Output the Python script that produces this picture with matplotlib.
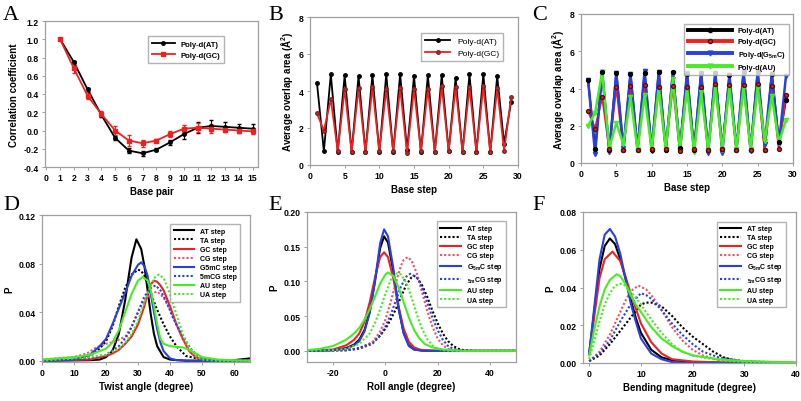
import numpy as np
import matplotlib
matplotlib.use('Agg')
import matplotlib.pyplot as plt
from matplotlib.lines import Line2D

plt.rcParams['font.family'] = ['Liberation Sans', 'DejaVu Sans']
plt.rcParams['axes.unicode_minus'] = False
plt.rcParams['mathtext.default'] = 'regular'

# ---- A: correlation coefficient ----
bp = np.arange(1, 16)
corr_at = [1.0, 0.75, 0.45, 0.17, -0.08, -0.22, -0.25, -0.21, -0.13, -0.04, 0.03, 0.05, 0.04, 0.03, 0.02]
corr_at_err = [0, 0.01, 0.02, 0.02, 0.02, 0.03, 0.03, 0.02, 0.03, 0.05, 0.06, 0.06, 0.05, 0.04, 0.05]
corr_gc = [1.0, 0.68, 0.38, 0.18, 0.0, -0.11, -0.14, -0.11, -0.04, 0.02, 0.03, 0.02, 0.01, 0.0, -0.01]
corr_gc_err = [0, 0.05, 0.04, 0.03, 0.05, 0.06, 0.04, 0.02, 0.03, 0.04, 0.05, 0.05, 0.03, 0.03, 0.03]

# ---- B / C: overlap area ----
steps = np.arange(1, 30)
ov_at = [4.45, 0.75, 4.9, 0.7, 4.85, 0.7, 4.8, 0.7, 4.85, 0.7, 4.9, 0.7, 4.9, 0.8, 4.8,
         0.7, 4.85, 0.7, 4.85, 0.75, 4.7, 0.7, 4.9, 0.7, 4.9, 0.7, 4.8, 1.15, 3.4]
ov_gc = [2.8, 1.85, 3.55, 0.75, 4.1, 0.7, 4.15, 0.7, 4.2, 0.75, 4.1, 0.75, 4.15, 0.65, 4.1,
         0.75, 4.1, 0.7, 4.25, 0.75, 4.2, 0.7, 4.2, 0.7, 4.25, 0.7, 4.15, 0.75, 3.65]
ov_g5mc = [4.45, 0.5, 4.9, 0.6, 4.85, 0.8, 4.8, 0.7, 4.95, 0.65, 4.9, 0.7, 4.85, 0.65, 4.85,
           0.65, 4.85, 0.55, 4.85, 0.55, 4.75, 0.7, 4.9, 0.65, 4.9, 1.0, 4.8, 1.0, 4.65]
ov_au = [2.0, 2.7, 4.9, 0.8, 2.15, 1.0, 3.55, 0.7, 3.65, 0.7, 4.05, 0.75, 4.5, 0.7, 4.05,
         0.6, 3.8, 0.7, 4.2, 0.7, 4.1, 0.75, 4.1, 0.75, 4.1, 1.2, 3.6, 1.1, 2.3]

# ---- D: twist angle distributions ----
tw_at_x = [0, 15, 18, 20, 22, 24, 26, 27, 28, 29.5, 31, 32, 33, 34, 35, 36, 38, 40, 45, 55, 60, 65]
tw_at_y = [0, 0.0005, 0.001, 0.003, 0.008, 0.022, 0.05, 0.068, 0.085, 0.100, 0.092, 0.078, 0.058,
           0.038, 0.022, 0.012, 0.003, 0.001, 0, 0, 0.0005, 0.002]
tw_ta_x = [0, 10, 15, 18, 20, 22, 24, 26, 28, 30, 31, 32, 34, 36, 38, 40, 42, 45, 50, 55, 65]
tw_ta_y = [0, 0.001, 0.004, 0.01, 0.016, 0.028, 0.045, 0.06, 0.071, 0.075, 0.074, 0.07, 0.055,
           0.042, 0.03, 0.02, 0.012, 0.004, 0.001, 0, 0]
tw_gc_x = [0, 15, 20, 22, 24, 26, 28, 30, 32, 33, 34, 35, 36, 37, 38, 40, 42, 44, 46, 48, 50, 55, 65]
tw_gc_y = [0, 0.001, 0.004, 0.006, 0.009, 0.014, 0.02, 0.03, 0.045, 0.055, 0.063, 0.066, 0.065,
           0.062, 0.058, 0.045, 0.03, 0.018, 0.008, 0.003, 0.001, 0, 0]
tw_cg_x = [0, 5, 10, 14, 17, 20, 23, 26, 28, 30, 32, 34, 36, 38, 40, 42, 44, 46, 48, 50, 55, 65]
tw_cg_y = [0.001, 0.002, 0.003, 0.006, 0.011, 0.014, 0.016, 0.02, 0.028, 0.04, 0.05, 0.055, 0.057,
           0.052, 0.042, 0.03, 0.018, 0.009, 0.004, 0.001, 0, 0]
tw_g5mc_x = [0, 10, 15, 18, 20, 22, 24, 26, 28, 30, 31, 32, 33, 34, 35, 36, 37, 38, 40, 42, 50, 65]
tw_g5mc_y = [0, 0.001, 0.005, 0.012, 0.018, 0.03, 0.043, 0.056, 0.07, 0.079, 0.081, 0.078, 0.07,
             0.055, 0.04, 0.026, 0.015, 0.008, 0.002, 0.0005, 0, 0]
tw_5mcg_x = [0, 15, 20, 24, 27, 30, 32, 34, 35.5, 37, 39, 41, 43, 45, 47, 50, 55, 65]
tw_5mcg_y = [0, 0.002, 0.005, 0.012, 0.022, 0.04, 0.053, 0.06, 0.062, 0.058, 0.048, 0.035, 0.025,
             0.016, 0.008, 0.002, 0, 0]
tw_au_x = [0, 5, 10, 15, 18, 20, 22, 24, 26, 28, 30, 31.5, 33, 34, 35, 36, 37, 38, 40, 42, 44, 46,
           48, 50, 55, 60, 65]
tw_au_y = [0.001, 0.002, 0.003, 0.005, 0.008, 0.01, 0.015, 0.025, 0.04, 0.055, 0.066, 0.069, 0.066,
           0.058, 0.045, 0.03, 0.018, 0.014, 0.012, 0.0115, 0.011, 0.009, 0.006, 0.003, 0.001, 0.0005, 0]
tw_ua_x = [0, 10, 15, 20, 24, 26, 28, 30, 32, 34, 35, 36.5, 38, 40, 42, 44, 46, 48, 50, 55, 65]
tw_ua_y = [0, 0.002, 0.003, 0.005, 0.01, 0.015, 0.022, 0.033, 0.048, 0.062, 0.068, 0.071, 0.068,
           0.055, 0.038, 0.022, 0.011, 0.004, 0.001, 0, 0]

# ---- E: roll angle distributions ----
ro_at_x = [-30, -20, -15, -12, -10, -8, -6, -4, -2, -0.5, 1, 3, 5, 7, 9, 11, 14, 20, 50]
ro_at_y = [0, 0.001, 0.004, 0.009, 0.016, 0.03, 0.056, 0.1, 0.148, 0.165, 0.156, 0.115, 0.062,
           0.026, 0.008, 0.002, 0.0005, 0, 0]
ro_ta_x = [-30, -15, -10, -5, -2, 0, 2, 4, 6, 8, 10, 11, 12, 14, 16, 18, 20, 22, 24, 26, 28, 30, 35, 50]
ro_ta_y = [0, 0.001, 0.004, 0.012, 0.022, 0.032, 0.045, 0.06, 0.078, 0.095, 0.106, 0.108, 0.106,
           0.095, 0.078, 0.058, 0.04, 0.025, 0.014, 0.007, 0.003, 0.001, 0, 0]
ro_gc_x = [-30, -20, -15, -12, -10, -8, -6, -4, -2, -0.5, 1, 3, 5, 7, 9, 11, 13, 16, 20, 50]
ro_gc_y = [0, 0.002, 0.008, 0.016, 0.025, 0.042, 0.07, 0.105, 0.135, 0.142, 0.135, 0.105, 0.065,
           0.032, 0.013, 0.005, 0.002, 0.0005, 0, 0]
ro_cg_x = [-30, -15, -10, -5, -2, 0, 2, 4, 6, 7, 8.5, 10, 12, 14, 16, 18, 20, 22, 24, 26, 30, 50]
ro_cg_y = [0, 0.001, 0.003, 0.012, 0.028, 0.045, 0.07, 0.098, 0.123, 0.131, 0.135, 0.13, 0.112,
           0.085, 0.058, 0.035, 0.018, 0.008, 0.003, 0.001, 0, 0]
ro_g5mc_x = [-30, -20, -15, -12, -10, -8, -6, -4, -2, -0.5, 1, 3, 5, 7, 9, 11, 14, 20, 50]
ro_g5mc_y = [0, 0.001, 0.003, 0.008, 0.014, 0.028, 0.055, 0.1, 0.155, 0.175, 0.165, 0.12, 0.063,
             0.025, 0.007, 0.002, 0.0003, 0, 0]
ro_5mcg_x = [-30, -15, -10, -5, -2, 0, 2, 4, 6, 8, 9.5, 11, 12.5, 14, 16, 18, 20, 22, 24, 26, 30, 50]
ro_5mcg_y = [0, 0.001, 0.003, 0.01, 0.022, 0.035, 0.052, 0.072, 0.093, 0.107, 0.111, 0.108, 0.104,
             0.092, 0.07, 0.048, 0.03, 0.016, 0.007, 0.003, 0, 0]
ro_au_x = [-30, -25, -20, -15, -12, -10, -8, -6, -4, -2, 0, 1, 3, 5, 7, 9, 11, 13, 15, 18, 22, 26, 30, 50]
ro_au_y = [0.001, 0.003, 0.007, 0.016, 0.025, 0.033, 0.045, 0.06, 0.078, 0.097, 0.11, 0.113, 0.108,
           0.092, 0.07, 0.048, 0.03, 0.018, 0.01, 0.005, 0.002, 0.001, 0, 0]
ro_ua_x = [-30, -20, -15, -10, -6, -4, -2, 0, 2, 4.5, 6, 8, 10, 12, 14, 16, 18, 20, 22, 25, 30, 50]
ro_ua_y = [0, 0.001, 0.003, 0.01, 0.025, 0.04, 0.06, 0.082, 0.102, 0.112, 0.11, 0.098, 0.077, 0.053,
           0.032, 0.017, 0.008, 0.003, 0.001, 0, 0, 0]

# ---- F: bending magnitude distributions ----
be_at_x = [0, 1, 2, 3, 4, 5, 6, 7, 8, 9, 10, 12, 14, 16, 20, 30, 40]
be_at_y = [0.005, 0.028, 0.05, 0.062, 0.066, 0.063, 0.055, 0.045, 0.034, 0.024, 0.016, 0.007, 0.003,
           0.0015, 0.0005, 0, 0]
be_ta_x = [0, 2, 4, 6, 8, 10, 11, 12, 14, 16, 18, 20, 22, 24, 26, 28, 30, 35, 40]
be_ta_y = [0.001, 0.004, 0.01, 0.017, 0.024, 0.031, 0.032, 0.032, 0.03, 0.025, 0.019, 0.014, 0.01,
           0.006, 0.003, 0.0015, 0.0008, 0.0003, 0]
be_gc_x = [0, 1, 2, 3, 4.5, 6, 7, 8, 9, 10, 12, 14, 16, 20, 25, 40]
be_gc_y = [0.005, 0.025, 0.045, 0.055, 0.059, 0.054, 0.046, 0.037, 0.029, 0.021, 0.011, 0.005,
           0.002, 0.0008, 0.0003, 0]
be_cg_x = [0, 2, 4, 6, 7, 8, 9.5, 11, 12, 14, 16, 18, 20, 22, 25, 30, 40]
be_cg_y = [0.001, 0.006, 0.015, 0.027, 0.033, 0.038, 0.041, 0.039, 0.036, 0.028, 0.019, 0.012,
           0.007, 0.004, 0.0015, 0.0005, 0]
be_g5mc_x = [0, 1, 2, 3, 4, 5, 6, 7, 8, 9, 10, 12, 14, 16, 20, 40]
be_g5mc_y = [0.005, 0.03, 0.055, 0.068, 0.071, 0.067, 0.058, 0.045, 0.032, 0.022, 0.013, 0.005,
             0.002, 0.0005, 0, 0]
be_5mcg_x = [0, 2, 4, 6, 8, 10, 11, 12, 14, 16, 18, 20, 22, 25, 30, 40]
be_5mcg_y = [0.001, 0.005, 0.012, 0.022, 0.031, 0.037, 0.036, 0.034, 0.028, 0.021, 0.015, 0.01,
             0.006, 0.003, 0.001, 0]
be_au_x = [0, 1, 2, 3, 4, 5.3, 6, 7, 8, 9, 10, 12, 14, 16, 18, 20, 25, 30, 40]
be_au_y = [0.004, 0.018, 0.03, 0.039, 0.044, 0.047, 0.046, 0.042, 0.036, 0.031, 0.027, 0.019, 0.013,
           0.009, 0.006, 0.004, 0.002, 0.001, 0.0003]
be_ua_x = [0, 1, 2, 3, 4, 5, 6, 7, 8, 10, 12, 14, 16, 18, 20, 25, 30, 40]
be_ua_y = [0.002, 0.012, 0.022, 0.031, 0.037, 0.041, 0.042, 0.041, 0.038, 0.031, 0.023, 0.016, 0.01,
           0.006, 0.004, 0.0015, 0.0005, 0]

BLACK = 'black'
RED = '#f02020'
PINK = '#f0506a'
BLUE = '#2840e0'
GREEN = '#44ee22'
GRID = '#a0a0a0'
dots = (0, (1, 1))

W, H = 801, 402
fig = plt.figure(figsize=(W / 100, H / 100), dpi=100)


def make_ax(l, r, t, b):
    ax = fig.add_axes([l / W, 1 - b / H, (r - l) / W, (b - t) / H])
    for s in ax.spines.values():
        s.set_color(GRID)
        s.set_linewidth(0.9)
    ax.tick_params(direction='out', length=2.5, width=0.7, color=GRID,
                   labelsize=6.2, pad=2)
    return ax


def bold_ticks(ax):
    for lab in ax.get_xticklabels() + ax.get_yticklabels():
        lab.set_fontweight('bold')


def letter(x, y, s):
    fig.text(x / W, 1 - y / H, s, family='Liberation Serif', fontsize=16, va='top', ha='left')


# A
ax = make_ax(45, 258, 22, 168)
ax.errorbar(bp, corr_at, yerr=corr_at_err, color=BLACK, marker='o', ms=2.5, lw=1.3,
            capsize=1.5, elinewidth=0.8)
ax.errorbar(bp, corr_gc, yerr=corr_gc_err, color=RED, marker='s', ms=2.5, lw=1.3,
            capsize=1.5, elinewidth=0.8)
ax.set_xlim(-0.1, 15.4)
ax.set_ylim(-0.4, 1.2)
ax.set_xticks(range(0, 16))
ax.set_yticks(np.arange(-0.4, 1.21, 0.2))
ax.set_yticklabels([f'{v:.1f}' for v in np.arange(-0.4, 1.21, 0.2)])
ax.set_xlabel('Base pair', fontsize=7, fontweight='bold', labelpad=3)
ax.set_ylabel('Correlation coefficient', fontsize=7, fontweight='bold', labelpad=3)
bold_ticks(ax)
handles = [Line2D([], [], color=BLACK, marker='o', ms=2.5, lw=1.3),
           Line2D([], [], color=RED, marker='s', ms=2.5, lw=1.3)]
ax.legend(handles, ['Poly-d(AT)', 'Poly-d(GC)'], loc='upper right', bbox_to_anchor=(0.86, 0.92),
          prop={'weight': 'bold', 'size': 5.5}, frameon=True, fancybox=False,
          edgecolor=GRID, handlelength=3, borderpad=0.5)
letter(3, 6, 'A')

# B
ax = make_ax(310, 518, 18, 166)
ax.plot(steps, ov_at, color=BLACK, marker='o', ms=2.5, lw=1.3, label='Poly-d(AT)')
ax.plot(steps, ov_gc, color=RED, marker='o', ms=2.5, mec='#802020', lw=1.3, label='Poly-d(GC)')
ax.set_xlim(0, 30)
ax.set_ylim(0, 8)
ax.set_xticks(range(0, 31, 5))
ax.set_yticks(range(0, 9, 2))
ax.set_xlabel('Base step', fontsize=7, fontweight='bold', labelpad=3)
ax.set_ylabel('Average overlap area (Å$^2$)', fontsize=7, fontweight='bold', labelpad=3)
bold_ticks(ax)
ax.legend(loc='upper right', bbox_to_anchor=(0.95, 0.92), fontsize=6, frameon=True,
          fancybox=False, edgecolor=GRID, handlelength=3, borderpad=0.5)
letter(268, 6, 'B')

# C
ax = make_ax(581, 793, 15, 164)
ax.plot(steps, ov_at, color=BLACK, lw=1.5, zorder=2)
ax.plot(steps, ov_gc, color=RED, lw=1.5, zorder=2)
ax.plot(steps, ov_g5mc, color=BLUE, marker='v', ms=3, lw=1.8, zorder=3)
ax.plot(steps, ov_au, color=GREEN, marker='v', ms=3, mfc='none', lw=1.8, zorder=4)
ax.plot(steps, ov_at, color=BLACK, marker='o', ms=2.8, ls='none', zorder=5)
ax.plot(steps, ov_gc, color=RED, marker='o', ms=2.8, mec='#501010', ls='none', zorder=5)
ax.set_xlim(0, 30)
ax.set_ylim(0, 8)
ax.set_xticks(range(0, 31, 5))
ax.set_yticks(range(0, 9, 2))
ax.set_xlabel('Base step', fontsize=7, fontweight='bold', labelpad=3)
ax.set_ylabel('Average overlap area (Å$^2$)', fontsize=7, fontweight='bold', labelpad=3)
bold_ticks(ax)
handles = [Line2D([], [], color=BLACK, marker='o', ms=3, lw=2.8),
           Line2D([], [], color=RED, marker='o', ms=3, mec='#501010', lw=2.8),
           Line2D([], [], color=BLUE, marker='v', ms=3.5, lw=2.8),
           Line2D([], [], color=GREEN, marker='v', ms=3.5, mfc='none', lw=2.8)]
ax.legend(handles, ['Poly-d(AT)', 'Poly-d(GC)', 'Poly-d(G$_{5m}$C)', 'Poly-d(AU)'],
          loc='upper right', bbox_to_anchor=(1.0, 0.96), prop={'weight': 'bold', 'size': 5.3},
          frameon=True, fancybox=False, edgecolor=GRID, handlelength=6, borderpad=0.5)
letter(532, 6, 'C')


def dist_panel(ax, curves, labels):
    styles = [(BLACK, '-'), (BLACK, dots), (RED, '-'), (PINK, dots),
              (BLUE, '-'), (BLUE, dots), (GREEN, '-'), (GREEN, dots)]
    for (xs, ys), (c, ls), lab in zip(curves, styles, labels):
        ax.plot(xs, ys, color=c, ls=ls, lw=1.5, label=lab)
    ax.legend(loc='upper right', bbox_to_anchor=(0.97, 0.96),
              prop={'weight': 'bold', 'size': 5}, frameon=True, fancybox=False,
              edgecolor=GRID, handlelength=3, borderpad=0.5, labelspacing=0.3)


# D
ax = make_ax(42, 250, 216, 363)
dist_panel(ax, [(tw_at_x, tw_at_y), (tw_ta_x, tw_ta_y), (tw_gc_x, tw_gc_y), (tw_cg_x, tw_cg_y),
                (tw_g5mc_x, tw_g5mc_y), (tw_5mcg_x, tw_5mcg_y), (tw_au_x, tw_au_y), (tw_ua_x, tw_ua_y)],
           ['AT step', 'TA step', 'GC step', 'CG step', 'G5mC step', '5mCG step', 'AU step', 'UA step'])
ax.set_xlim(0, 65)
ax.set_ylim(-0.001, 0.12)
ax.set_xticks(range(0, 61, 10))
ax.set_yticks([0, 0.04, 0.08, 0.12])
ax.set_yticklabels(['0.00', '0.04', '0.08', '0.12'])
ax.set_xlabel('Twist angle (degree)', fontsize=7, fontweight='bold', labelpad=3)
ax.set_ylabel('P', fontsize=7, fontweight='bold', labelpad=3)
bold_ticks(ax)
letter(3, 196, 'D')

# E
ax = make_ax(307, 516, 213, 363)
dist_panel(ax, [(ro_at_x, ro_at_y), (ro_ta_x, ro_ta_y), (ro_gc_x, ro_gc_y), (ro_cg_x, ro_cg_y),
                (ro_g5mc_x, ro_g5mc_y), (ro_5mcg_x, ro_5mcg_y), (ro_au_x, ro_au_y), (ro_ua_x, ro_ua_y)],
           ['AT step', 'TA step', 'GC step', 'CG step', 'G$_{5m}$C step', '$_{5m}$CG step',
            'AU step', 'UA step'])
ax.set_xlim(-30, 50)
ax.set_ylim(-0.016, 0.2)
ax.set_xticks([-20, 0, 20, 40])
ax.set_yticks([0, 0.05, 0.1, 0.15, 0.2])
ax.set_yticklabels(['0.00', '0.05', '0.10', '0.15', '0.20'])
ax.set_xlabel('Roll angle (degree)', fontsize=7, fontweight='bold', labelpad=3)
ax.set_ylabel('P', fontsize=7, fontweight='bold', labelpad=3)
bold_ticks(ax)
letter(268, 196, 'E')

# F
ax = make_ax(583, 796, 213, 364)
dist_panel(ax, [(be_at_x, be_at_y), (be_ta_x, be_ta_y), (be_gc_x, be_gc_y), (be_cg_x, be_cg_y),
                (be_g5mc_x, be_g5mc_y), (be_5mcg_x, be_5mcg_y), (be_au_x, be_au_y), (be_ua_x, be_ua_y)],
           ['AT step', 'TA step', 'GC step', 'CG step', 'G$_{5m}$C step', '$_{5m}$CG step',
            'AU step', 'UA step'])
ax.set_xlim(-1.2, 40)
ax.set_ylim(0, 0.08)
ax.set_xticks(range(0, 41, 10))
ax.set_yticks([0, 0.02, 0.04, 0.06, 0.08])
ax.set_yticklabels(['0.00', '0.02', '0.04', '0.06', '0.08'])
ax.set_xlabel('Bending magnitude (degree)', fontsize=7, fontweight='bold', labelpad=3)
ax.set_ylabel('P', fontsize=7, fontweight='bold', labelpad=3)
bold_ticks(ax)
letter(532, 196, 'F')

fig.savefig('out.png', dpi=100)
